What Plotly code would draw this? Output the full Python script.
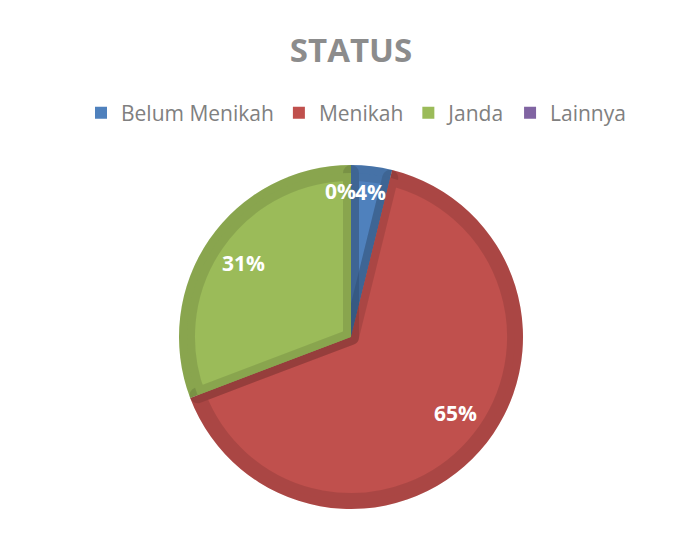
import math
import plotly.graph_objects as go

categories = ["Belum Menikah", "Menikah", "Janda", "Lainnya"]
counts = [2, 34, 16, 0]
fill_colors = ["#4F81BD", "#C0504D", "#9BBB59", "#8064A2"]
edge_widths = [16, 16, 16, 0]
label_radius = [0.85, 0.81, 0.76, 0.85]
label_xshift = [2, 0, 0, -10]

# page body has an 8px margin; the figure is sized to fit the window
OFF = 8
W, H = 686 - OFF, 535 - OFF
cx, cy, R = 351 - OFF, 337 - OFF, 172
band = 8
r = R - band


def dom(rad):
    return dict(x=[(cx - rad) / W, (cx + rad) / W], y=[1 - (cy + rad) / H, 1 - (cy - rad) / H])


# base pie (full radius) so the outer darkened band sits on slice colour
fig = go.Figure(go.Pie(
    labels=categories, values=counts, sort=False, direction="clockwise", rotation=0,
    marker=dict(colors=fill_colors, line=dict(width=0)),
    textinfo="none", domain=dom(R), hoverinfo="skip", showlegend=True,
))
# top pie with translucent dark stroke giving each slice an inner darker border
fig.add_trace(go.Pie(
    labels=categories, values=counts, sort=False, direction="clockwise", rotation=0,
    marker=dict(colors=fill_colors, line=dict(color="rgba(0,0,0,0.115)", width=edge_widths)),
    textinfo="none", domain=dom(r), hoverinfo="label+percent", showlegend=False,
))

# percentage labels placed along each slice bisector
total = sum(counts)
cum = 0
for i, v in enumerate(counts):
    frac = v / total
    mid = (cum + frac / 2) * 2 * math.pi
    cum += frac
    d = label_radius[i] * R
    px = cx + d * math.sin(mid)
    py = cy - d * math.cos(mid)
    fig.add_annotation(
        x=px / W, y=1 - py / H, xref="paper", yref="paper",
        text=f"<b>{round(frac * 100)}%</b>", showarrow=False,
        xshift=label_xshift[i],
        font=dict(family="Open Sans", size=21, color="white"),
    )

fig.update_layout(
    width=W, height=H,
    margin=dict(l=0, r=0, t=0, b=0),
    paper_bgcolor="white",
    title=dict(text="<b>STATUS</b>", x=(351 - OFF) / W, xanchor="center", y=1 - (50 - OFF) / H,
               yanchor="middle", yref="container",
               font=dict(family="Open Sans", size=33, color="#8C8C8C")),
    legend=dict(orientation="h", x=(356 - OFF) / W, xanchor="center", y=1 - (113 - OFF) / H,
                yanchor="middle", font=dict(family="Open Sans", size=21, color="#808080"),
                traceorder="normal"),
)

fig.write_html("out.html")
